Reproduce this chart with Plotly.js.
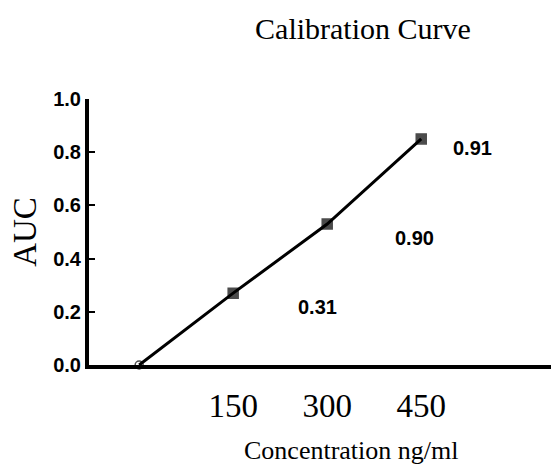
<!DOCTYPE html>
<html>
<head>
<meta charset="utf-8">
<script src="https://cdn.plot.ly/plotly-3.0.1.min.js"></script>
<style>html,body{margin:0;padding:0;background:#fff;}#chart{width:551px;height:470px;}</style>
</head>
<body>
<div id="chart"></div>
<script>
// Data
var concentration = [0, 150, 300, 450];
var auc = [0.0, 0.27, 0.53, 0.85];
var xTickValues = [150, 300, 450];
var xTickLabels = ["150", "300", "450"];
var noteLabels = ["0.31", "0.90", "0.91"];
var noteX = [284, 439, 532];
var noteY = [0.218, 0.478, 0.814];

var markerSymbols = concentration.map(function (c, i) { return i === 0 ? "circle-open" : "square"; });
var markerSizes = concentration.map(function (c, i) { return i === 0 ? 8 : 10; });

var trace = {
  x: concentration,
  y: auc,
  mode: "lines+markers",
  type: "scatter",
  line: {color: "#000", width: 3},
  marker: {color: "#000", symbol: markerSymbols, size: markerSizes, line: {color: "#000", width: 1.5}},
  cliponaxis: false,
  hoverinfo: "skip"
};

var annotations = noteLabels.map(function (t, i) {
  return {
    x: noteX[i], y: noteY[i], xref: "x", yref: "y", text: t, showarrow: false,
    xanchor: "center", yanchor: "middle",
    font: {family: "Liberation Sans, Arial, sans-serif", size: 20, weight: "bold", color: "#000"}
  };
});
annotations.push({
  x: 0.567, y: -0.322, xref: "paper", yref: "paper", text: "Concentration ng/ml",
  showarrow: false, xanchor: "center", yanchor: "middle",
  font: {family: "Liberation Serif, Times New Roman, serif", size: 26, color: "#000"}
});

var layout = {
  width: 551, height: 470,
  margin: {l: 89, r: 0, t: 99, b: 105},
  paper_bgcolor: "#fff", plot_bgcolor: "#fff",
  showlegend: false,
  title: {
    text: "Calibration Curve",
    x: 0.593, xref: "paper", xanchor: "center",
    y: 0.94, yref: "container", yanchor: "middle",
    font: {family: "Liberation Serif, Times New Roman, serif", size: 30, color: "#000"}
  },
  xaxis: {
    range: [-80, 657],
    showgrid: false, zeroline: false,
    showline: true, linecolor: "#000", linewidth: 4,
    tickmode: "array", tickvals: xTickValues, ticktext: xTickLabels,
    ticks: "", ticklabelstandoff: 8,
    tickfont: {family: "Liberation Serif, Times New Roman, serif", size: 33, color: "#000"},
    fixedrange: true
  },
  yaxis: {
    range: [0, 1.0],
    showgrid: false, zeroline: false,
    showline: true, linecolor: "#000", linewidth: 4,
    tickmode: "array", tickvals: [0, 0.2, 0.4, 0.6, 0.8, 1.0],
    ticktext: ["0.0", "0.2", "0.4", "0.6", "0.8", "1.0"],
    ticks: "inside", ticklen: 6, tickwidth: 2, tickcolor: "#000",
    tickfont: {family: "Liberation Sans, Arial, sans-serif", size: 20, weight: "bold", color: "#000"},
    title: {
      text: "AUC", standoff: 8,
      font: {family: "Liberation Serif, Times New Roman, serif", size: 33, color: "#000"}
    },
    fixedrange: true
  },
  annotations: annotations
};

Plotly.newPlot("chart", [trace], layout, {displayModeBar: false, staticPlot: true});
</script>
</body>
</html>
